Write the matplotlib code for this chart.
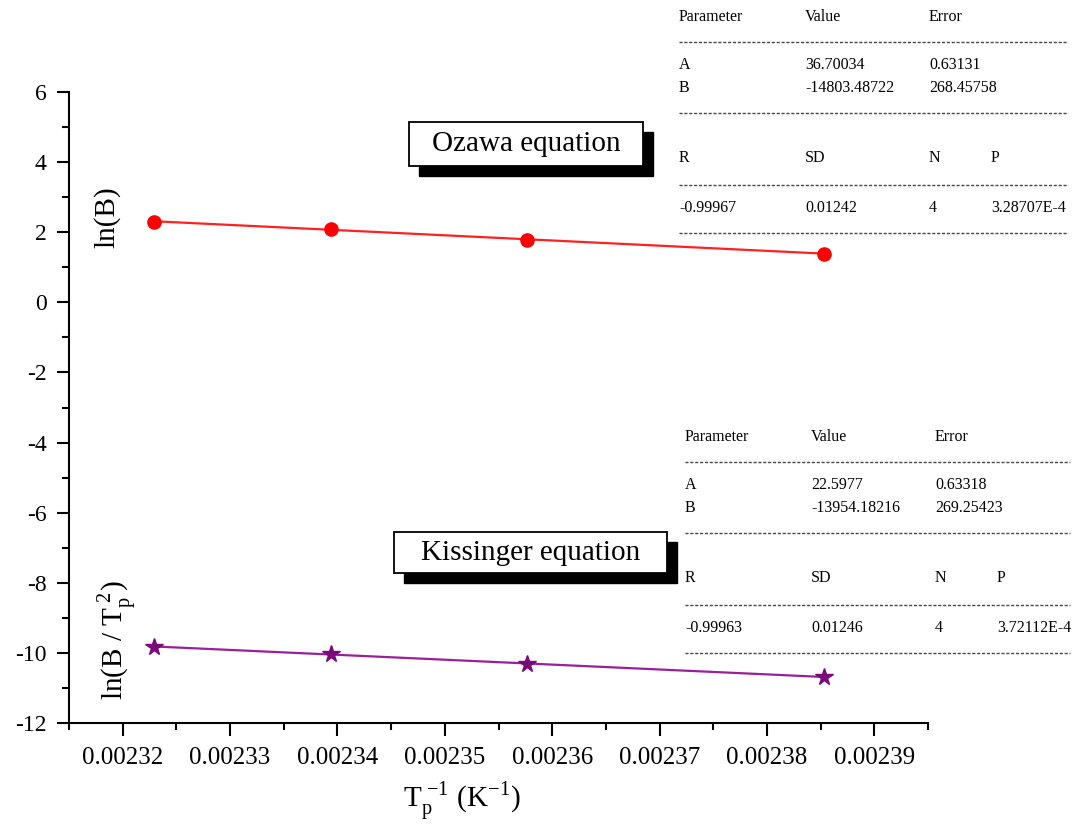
import matplotlib
matplotlib.use("Agg")
import matplotlib.pyplot as plt
import numpy as np
from matplotlib.patches import Rectangle
from matplotlib.lines import Line2D
from matplotlib.ticker import MultipleLocator

# Inverse peak temperatures (1/K)
tp_inv = [0.0023229, 0.0023394, 0.0023577, 0.0023853]
# Ozawa: ln(B)
ozawa = [2.303, 2.079, 1.792, 1.386]
# Kissinger: ln(B / Tp^2)
kissinger = [-9.827, -10.036, -10.308, -10.691]

# Linear fit results  y = A + B x
ozawa_fit = {"A": 36.70034, "B": -14803.48722, "A_err": 0.63131, "B_err": 268.45758,
             "R": "-0.99967", "SD": "0.01242", "N": "4", "P": "3.28707E-4"}
kiss_fit = {"A": 22.5977, "B": -13954.18216, "A_err": 0.63318, "B_err": 269.25423,
            "R": "-0.99963", "SD": "0.01246", "N": "4", "P": "3.72112E-4"}
ozawa_vals = ["36.70034", "-14803.48722", "0.63131", "268.45758"]
kiss_vals = ["22.5977", "-13954.18216", "0.63318", "269.25423"]

W, H = 1091, 836
plt.rcParams["font.family"] = ["Liberation Serif", "DejaVu Serif"]
plt.rcParams["mathtext.fontset"] = "stix"
plt.rcParams["axes.unicode_minus"] = False

fig = plt.figure(figsize=(W / 100, H / 100), dpi=100)
ax = fig.add_axes([69 / W, 1 - 723 / H, (928 - 69) / W, (723 - 92) / H])


def fx(px):
    return px / W


def fy(py):
    return 1 - py / H


xs = np.linspace(min(tp_inv), max(tp_inv), 50)
ax.plot(xs, ozawa_fit["A"] + ozawa_fit["B"] * xs, color="#ff2020", lw=1.6, zorder=2)
ax.plot(tp_inv, ozawa, "o", color="#ff0000", ms=9.5, mec="#ff0000", zorder=3)
ax.plot(xs, kiss_fit["A"] + kiss_fit["B"] * xs, color="#9b1f9b", lw=1.6, zorder=2)
ax.plot(tp_inv, kissinger, "*", color="#7a0a7a", ms=13, mec="#7a0a7a", zorder=3)

ax.set_xlim(0.002315, 0.002395)
ax.set_ylim(-12, 6)
ax.xaxis.set_minor_locator(MultipleLocator(0.000005))
ax.yaxis.set_major_locator(MultipleLocator(2))
ax.yaxis.set_minor_locator(MultipleLocator(1))
ax.set_xticks([0.00232 + i * 0.00001 for i in range(8)])
ax.set_xticklabels(["%.5f" % (0.00232 + i * 0.00001) for i in range(8)], fontsize=18)
ax.set_yticks(range(-12, 7, 2))
ax.set_yticklabels([str(v) for v in range(-12, 7, 2)], fontsize=17)
for s in ["top", "right"]:
    ax.spines[s].set_visible(False)
for s in ["left", "bottom"]:
    ax.spines[s].set_linewidth(1.5)
ax.tick_params(which="major", direction="out", length=9, width=1.5)
ax.tick_params(which="minor", direction="out", length=5, width=1.5)
ax.tick_params(axis="x", pad=8)
ax.tick_params(axis="y", pad=7)

# Axis titles
fig.text(fx(107), fy(217), "ln(B)", rotation=90, fontsize=21, ha="center", va="center")
fig.text(fx(118), fy(640), r"ln(B / T$_\mathregular{p}^{\ \mathregular{2}}$)", rotation=90,
         fontsize=21, ha="center", va="center")
fig.text(fx(462), fy(802), r"T$_\mathregular{p}^{\ \mathregular{-1}}$ (K$^\mathregular{-1}$)",
         fontsize=21, ha="center", va="center")


def shadow_box(x0, y0, x1, y1, label, off=10):
    fig.patches.append(Rectangle((fx(x0 + off), fy(y1 + off)), fx(x1 - x0), (y1 - y0) / H,
                                 transform=fig.transFigure, facecolor="black",
                                 edgecolor="black", zorder=5))
    fig.patches.append(Rectangle((fx(x0), fy(y1)), fx(x1 - x0), (y1 - y0) / H,
                                 transform=fig.transFigure, facecolor="white",
                                 edgecolor="black", lw=1.3, zorder=6))
    fig.text(fx((x0 + x1) / 2), fy((y0 + y1) / 2), label, fontsize=21,
             ha="center", va="center", zorder=7)


shadow_box(409, 122, 643, 166, "Ozawa equation")
shadow_box(394, 532, 667, 573, "Kissinger equation")


def dash_line(x0, x1, y):
    fig.lines.append(Line2D([fx(x0), fx(x1)], [fy(y), fy(y)], transform=fig.transFigure,
                            color="#444444", lw=1.0, linestyle=(0, (2.2, 1.3))))


def fit_table(x0, y0, vals, stats, xr):
    cols = [x0, x0 + 126, x0 + 250, x0 + 312]
    kw = dict(fontsize=11.5, va="center", ha="left")
    fig.text(fx(cols[0]), fy(y0), "Parameter", **kw)
    fig.text(fx(cols[1]), fy(y0), "Value", **kw)
    fig.text(fx(cols[2]), fy(y0), "Error", **kw)
    dash_line(x0, xr, y0 + 25)
    fig.text(fx(cols[0]), fy(y0 + 48), "A", **kw)
    fig.text(fx(cols[1]), fy(y0 + 48), vals[0], **kw)
    fig.text(fx(cols[2]), fy(y0 + 48), vals[2], **kw)
    fig.text(fx(cols[0]), fy(y0 + 71), "B", **kw)
    fig.text(fx(cols[1]), fy(y0 + 71), vals[1], **kw)
    fig.text(fx(cols[2]), fy(y0 + 71), vals[3], **kw)
    dash_line(x0, xr, y0 + 96)
    fig.text(fx(cols[0]), fy(y0 + 141), "R", **kw)
    fig.text(fx(cols[1]), fy(y0 + 141), "SD", **kw)
    fig.text(fx(cols[2]), fy(y0 + 141), "N", **kw)
    fig.text(fx(cols[3]), fy(y0 + 141), "P", **kw)
    dash_line(x0, xr, y0 + 168)
    fig.text(fx(cols[0]), fy(y0 + 191), stats["R"], **kw)
    fig.text(fx(cols[1]), fy(y0 + 191), stats["SD"], **kw)
    fig.text(fx(cols[2]), fy(y0 + 191), stats["N"], **kw)
    fig.text(fx(cols[3]), fy(y0 + 191), stats["P"], **kw)
    dash_line(x0, xr, y0 + 216)


fit_table(679, 17, ozawa_vals, ozawa_fit, 1068)
fit_table(685, 437, kiss_vals, kiss_fit, 1070)

fig.savefig("out.png", dpi=100, facecolor="white")
